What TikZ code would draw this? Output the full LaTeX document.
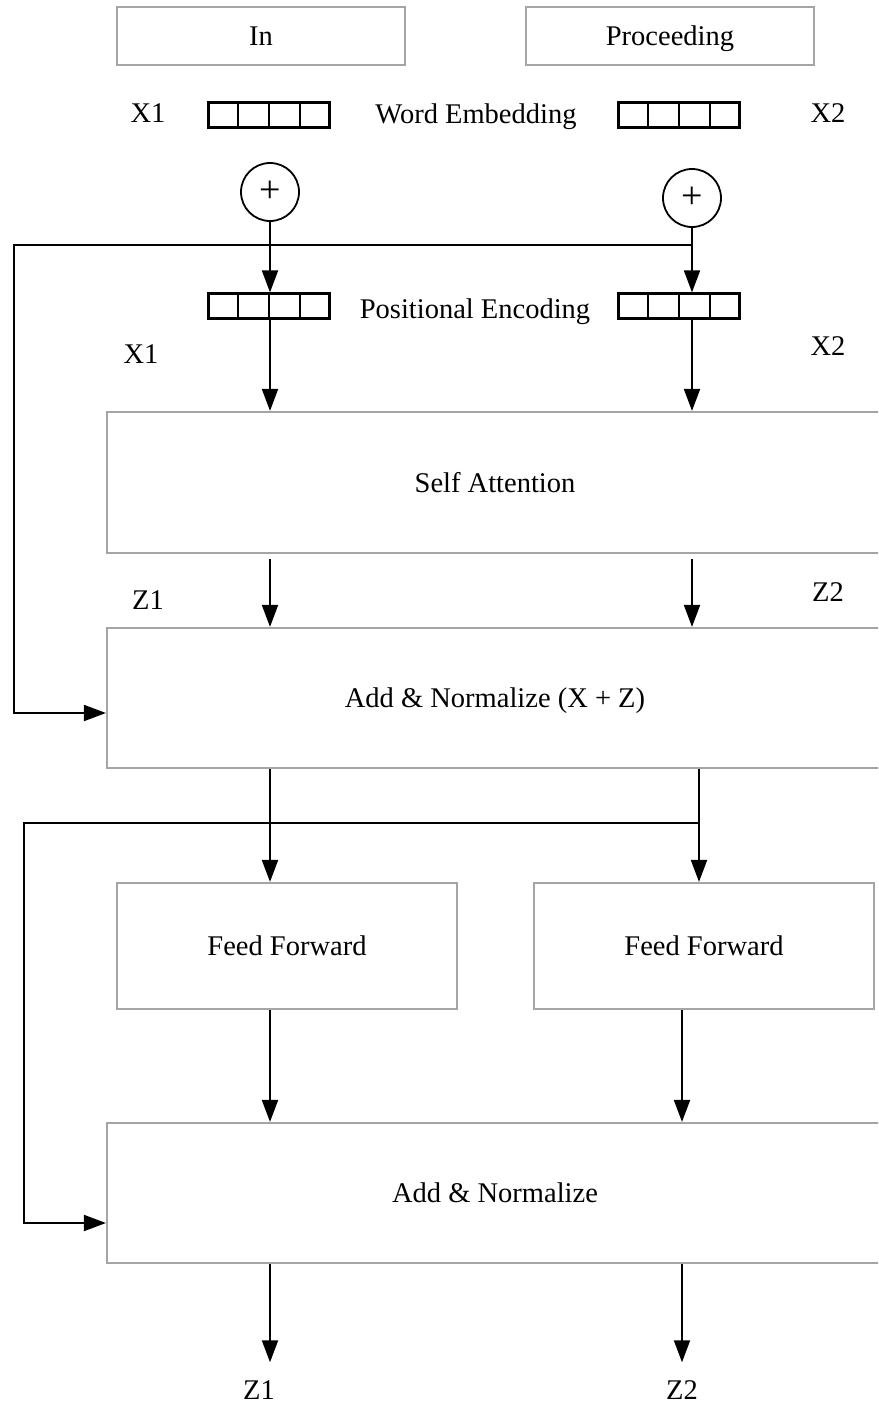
\documentclass[tikz,border=0pt]{standalone}
\usepackage{fontspec}
\setmainfont{Liberation Serif}
\usetikzlibrary{arrows.meta,positioning,calc}
\definecolor{boxgray}{RGB}{165,165,165}

\tikzset{
  block/.style={draw=boxgray, line width=2.2pt, fill=white, inner sep=0pt, text height=19pt, text depth=0pt},
  vecbox/.style={draw=black, line width=2.2pt, minimum width=121pt, minimum height=25pt, inner sep=0pt},
  plus/.style={draw=black, line width=1.8pt, circle, minimum size=58pt, inner sep=0pt, font=\fontsize{38}{40}\selectfont},
  lbl/.style={inner sep=0pt, text height=19pt, text depth=6pt},
  arr/.style={line width=2pt, -{Triangle[length=22pt,width=16pt]}},
}

\begin{document}
\begin{tikzpicture}[x=1pt, y=-1pt, font=\fontsize{28.5}{32}\selectfont]
  \useasboundingbox (0,0) rectangle (878,1408);
  \clip (0,0) rectangle (878,1408);
  % --- input words
  \node[block, minimum width=288pt, minimum height=58pt] (in) at (261,36) {In};
  \node[block, minimum width=288pt, minimum height=58pt] (proc) at (670,36) {Proceeding};
  % --- word embedding
  \node[lbl] (x1a) at (148,116) {X1};
  \node[vecbox] (embL) at (269,115) {};
  \node[lbl] (wemb) at (476,117) {Word Embedding};
  \node[vecbox] (embR) at (679,115) {};
  \node[lbl] (x2a) at (828,116) {X2};
  % --- adders
  \node[plus] (plusL) at (270,192) {+};
  \node[plus] (plusR) at (692,198) {+};
  % --- positional encoding
  \node[vecbox] (posL) at (269,306) {};
  \node[lbl] (penc) at (475,312) {Positional Encoding};
  \node[vecbox] (posR) at (679,306) {};
  \node[lbl] (x1b) at (141,357) {X1};
  \node[lbl] (x2b) at (828,349) {X2};
  \foreach \v in {embL,embR,posL,posR}
    \foreach \i in {1,2,3}
      \draw[line width=2.2pt] ($(\v.north west)!\i/4!(\v.north east)$) -- ($(\v.south west)!\i/4!(\v.south east)$);
  % --- encoder blocks
  \node[block, minimum width=776pt, minimum height=141pt] (selfatt) at (495,482.5) {Self Attention};
  \node[lbl] (z1a) at (148,603) {Z1};
  \node[lbl] (z2a) at (828,595) {Z2};
  \node[block, minimum width=776pt, minimum height=140pt] (addnorm) at (495,698) {Add \& Normalize (X + Z)};
  \node[block, minimum width=340pt, minimum height=126pt] (ffL) at (287,946) {Feed Forward};
  \node[block, minimum width=340pt, minimum height=126pt] (ffR) at (704,946) {Feed Forward};
  \node[block, minimum width=776pt, minimum height=140pt] (addnorm2) at (495,1193) {Add \& Normalize};
  \node[lbl] (z1out) at (259,1393) {Z1};
  \node[lbl] (z2out) at (682,1393) {Z2};
  % --- connectors
  \draw[arr] (plusL) -- (plusL |- posL.north);
  \draw[arr] (plusR) -- (plusR |- posR.north);
  \draw[arr] (posL.south -| plusL) -- (plusL |- selfatt.north);
  \draw[arr] (posR.south -| plusR) -- (plusR |- selfatt.north);
  \draw[arr] ([yshift=-5pt]selfatt.south -| plusL) -- (addnorm.north -| plusL);
  \draw[arr] ([yshift=-5pt]selfatt.south -| plusR) -- (addnorm.north -| plusR);
  % residual 1
  \coordinate (tap1) at (plusR |- 0,245);
  \coordinate (fb1) at (14,713);
  \draw[arr] (tap1) -| (fb1) -- (addnorm.west |- fb1);
  % residual 2
  \coordinate (tap2) at (699,823);
  \coordinate (fb2) at (24,1223);
  \draw[line width=2pt] (addnorm.south -| tap2) -- (tap2);
  \draw[arr] (tap2) -| (fb2) -- (addnorm2.west |- fb2);
  \draw[arr] (addnorm.south -| plusL) -- (ffL.north -| plusL);
  \draw[arr] (tap2) -- (ffR.north -| tap2);
  \draw[arr] (ffL.south -| plusL) -- (addnorm2.north -| plusL);
  \draw[arr] (ffR.south -| z2out) -- (addnorm2.north -| z2out);
  % outputs
  \draw[arr, shorten >=18pt] (addnorm2.south -| plusL) -- (plusL |- z1out.north);
  \draw[arr, shorten >=18pt] (addnorm2.south -| z2out) -- (z2out.north);
\end{tikzpicture}
\end{document}
